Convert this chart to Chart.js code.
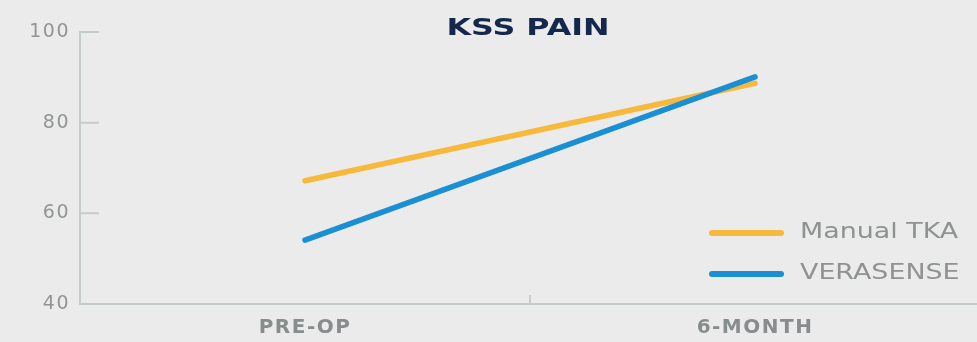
<!DOCTYPE html>
<html><head><meta charset="utf-8">
<script src="https://cdn.jsdelivr.net/npm/chart.js@4.4.1/dist/chart.umd.min.js"></script>
<style>
html,body{margin:0;padding:0;background:#ebebeb;overflow:hidden;width:977px;height:342px;}
#wrap{width:985px;height:342px;position:relative;}
</style></head><body>
<div id="wrap"><canvas id="c"></canvas></div>
<script>
const chartTitle = 'KSS PAIN';
const categories = ['PRE-OP', '6-MONTH'];
const seriesNames = ['Manual TKA', 'VERASENSE'];
const manualTKA = [67.2, 88.7];
const verasense = [54.1, 90.1];
const yTicks = [40, 60, 80, 100];
const seriesColors = ['#f7b93c', '#1b8fd3'];
const axisColor = '#c6cccb';

const spacing = {
  id: 'spacing',
  beforeDraw(chart) { chart.ctx.letterSpacing = '1.5px'; }
};

const innerTicks = {
  id: 'innerTicks',
  afterDraw(chart) {
    const {ctx, scales: {x, y}} = chart;
    ctx.save();
    ctx.strokeStyle = axisColor; ctx.lineWidth = 2;
    ctx.beginPath();
    y.ticks.forEach((t, i) => {
      const py = y.getPixelForTick(i);
      ctx.moveTo(x.left, py); ctx.lineTo(x.left + 19, py);
    });
    for (let i = 1; i < categories.length; i++) {
      const px = (x.getPixelForTick(i - 1) + x.getPixelForTick(i)) / 2;
      ctx.moveTo(px, x.top); ctx.lineTo(px, x.top - 9);
    }
    ctx.stroke();
    ctx.restore();
  }
};

const textDeco = {
  id: 'textDeco',
  afterDraw(chart) {
    const {ctx, chartArea} = chart;
    ctx.save();
    ctx.letterSpacing = '0px';
    // title
    ctx.save();
    ctx.font = 'bold 23px "DejaVu Sans"';
    ctx.fillStyle = '#14284c';
    ctx.textAlign = 'center'; ctx.textBaseline = 'alphabetic';
    ctx.translate((chartArea.left + chartArea.right) / 2 - 2, 35);
    ctx.scale(1.38, 1);
    ctx.fillText(chartTitle, 0, 0);
    ctx.restore();
    // legend
    const ys = [233, 274];
    seriesNames.forEach((name, i) => {
      const ly = ys[i];
      ctx.save();
      ctx.strokeStyle = seriesColors[i];
      ctx.lineWidth = 6; ctx.lineCap = 'round';
      ctx.beginPath();
      ctx.moveTo(chartArea.right - 268, ly);
      ctx.lineTo(chartArea.right - 199, ly);
      ctx.stroke();
      ctx.font = '21px "DejaVu Sans"';
      ctx.fillStyle = '#8f9292';
      ctx.textAlign = 'left'; ctx.textBaseline = 'middle';
      ctx.translate(chartArea.right - 180, ly);
      ctx.scale(1.28, 1);
      ctx.fillText(name, 0, 0);
      ctx.restore();
    });
    ctx.restore();
  }
};

new Chart(document.getElementById('c'), {
  type: 'line',
  data: {
    labels: categories,
    datasets: [
      { label: seriesNames[0], data: manualTKA, borderColor: seriesColors[0], backgroundColor: seriesColors[0], borderWidth: 5.5, pointRadius: 0, borderCapStyle: 'round', order: 1 },
      { label: seriesNames[1], data: verasense, borderColor: seriesColors[1], backgroundColor: seriesColors[1], borderWidth: 5.5, pointRadius: 0, borderCapStyle: 'round', order: 0 }
    ]
  },
  options: {
    responsive: true,
    maintainAspectRatio: false,
    animation: false,
    layout: { padding: { top: 32, right: 5, left: 0, bottom: 0 } },
    plugins: { legend: { display: false }, title: { display: false }, tooltip: { enabled: false } },
    scales: {
      x: {
        type: 'category',
        offset: true,
        grid: { display: true, drawOnChartArea: false, drawTicks: false, color: 'rgba(0,0,0,0)' },
        border: { display: true, color: axisColor, width: 2 },
        ticks: { color: '#878c8c', font: { family: '"DejaVu Sans"', size: 20, weight: 'bold' }, padding: 12, maxRotation: 0 },
        afterFit(s) { s.height = 38; }
      },
      y: {
        min: 40, max: 100,
        afterBuildTicks(s) { s.ticks = yTicks.map(v => ({ value: v })); },
        grid: { display: true, drawOnChartArea: false, drawTicks: false, color: 'rgba(0,0,0,0)' },
        border: { display: true, color: axisColor, width: 2 },
        ticks: { color: '#929595', font: { family: '"DejaVu Sans"', size: 19 }, padding: 10 },
        afterFit(s) { s.width = 80; }
      }
    }
  },
  plugins: [spacing, innerTicks, textDeco]
});
</script>
</body></html>
